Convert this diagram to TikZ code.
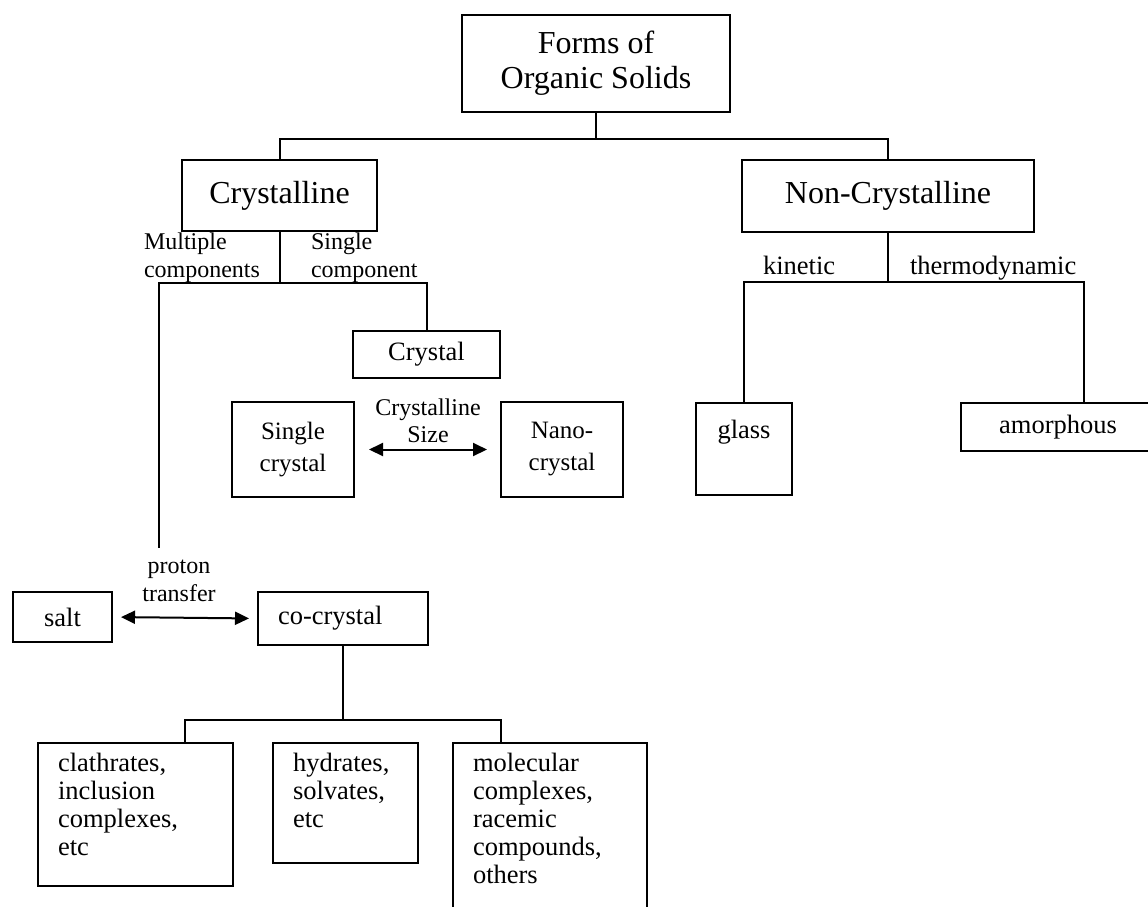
\documentclass[tikz,border=0pt]{standalone}
\usepackage{fontspec}
\setmainfont{Liberation Serif}
\usepackage{tikz}
\usetikzlibrary{positioning, arrows.meta}

\begin{document}
\begin{tikzpicture}[
    x=1pt, y=-1pt,
    line width=2pt,
    >={Triangle[length=14pt, width=13pt]},
    bigtxt/.style={font=\fontsize{32}{35}\selectfont},
    midtxt/.style={font=\fontsize{26.5}{28}\selectfont},
    smalltxt/.style={font=\fontsize{24}{28}\selectfont},
    box/.style={draw, align=center, inner sep=0pt},
    listbox/.style={draw, midtxt, anchor=north west, align=left, inner xsep=20pt, inner ysep=10pt},
    lbl/.style={smalltxt, inner sep=0pt},
    arrow/.style={<->}
]
\useasboundingbox (0,0) rectangle (1148,906);
\clip (0,0) rectangle (1148,906);

% Top level
\node[box, bigtxt, minimum width=268pt, minimum height=97pt] (forms) at (596,63.5) {Forms of\\Organic Solids};
\node[box, bigtxt, minimum width=195pt, minimum height=71pt] (cryst) at (279.5,195.5) {Crystalline};
\node[box, bigtxt, minimum width=292pt, minimum height=72pt] (noncryst) at (888,196) {Non-Crystalline};

% Crystalline branch
\node[lbl, align=left, anchor=north west] (multi) at (143,232) {Multiple\\components};
\node[lbl, align=left, anchor=north west] (onecomp) at (310,232) {Single\\component};
\node[box, midtxt, minimum width=147pt, minimum height=47pt] (crystal) at (426.5,354.5) {Crystal};
\node[box, font=\fontsize{25}{32}\selectfont, minimum width=122pt, minimum height=95pt] (single) at (293,449.5) {Single\\crystal};
\node[box, font=\fontsize{25}{32}\selectfont, minimum width=122pt, minimum height=95pt] (nano) at (562,449.5) {Nano-\\crystal};
\node[lbl, align=center, anchor=north, font=\fontsize{24}{27}\selectfont] (csize) at (428,398) {Crystalline\\Size};
\coordinate (mc) at (159,548);

% Non-crystalline branch
\node[midtxt, anchor=base west, inner sep=0pt] (kin) at (762,274) {kinetic};
\node[midtxt, anchor=base west, inner sep=0pt] (thermo) at (909,274) {thermodynamic};
\node[box, midtxt, minimum width=96pt, text height=35pt, text depth=57pt, anchor=base] (glass) at (744,438) {glass};
\node[box, midtxt, minimum width=194pt, minimum height=48pt] (amorph) at (1058,427) {amorphous};

% Multiple components
\node[lbl, align=center, anchor=north] (ptrans) at (179,559) {proton\\transfer};
\node[box, midtxt, minimum width=99pt, minimum height=50pt] (salt) at (62.5,617) {salt};
\node[box, midtxt, align=left, text width=130pt, inner xsep=20pt, minimum height=53pt] (cocryst) at (343,618.5) {co-crystal};
\node[listbox, text width=155pt, text depth=105pt] (clath) at (37,742) {clathrates,\\inclusion\\complexes,\\etc};
\node[listbox, text width=105pt, text depth=82pt] (hydr) at (272,742) {hydrates,\\solvates,\\etc};
\node[listbox, text width=154pt, text depth=160pt] (molec) at (452,742) {molecular\\complexes,\\racemic\\compounds,\\others};

% Tree lines
\draw (forms.south) -- ++(0,26) -| (cryst.north);
\draw (forms.south) -- ++(0,26) -| (noncryst.north);
\draw (cryst.south) -- ++(0,51) -| (crystal.north);
\draw (cryst.south) -- ++(0,51) -| (mc);
\draw (noncryst.south) -- ++(0,49) -| (glass.north);
\draw (noncryst.south) -- ++(0,49) -| ([xshift=26pt]amorph.north);
\draw (cocryst.south) -- ++(0,74) -| ([xshift=49.5pt]clath.north);
\draw (cocryst.south) -- ++(0,74) -| ([xshift=-49pt]molec.north);

% Double arrows
\draw[arrow, shorten <=14pt, shorten >=13pt] (single.east) -- (nano.west);
\draw[arrow, shorten <=8pt, shorten >=8pt] (salt.east) -- (cocryst.west);

\end{tikzpicture}
\end{document}
